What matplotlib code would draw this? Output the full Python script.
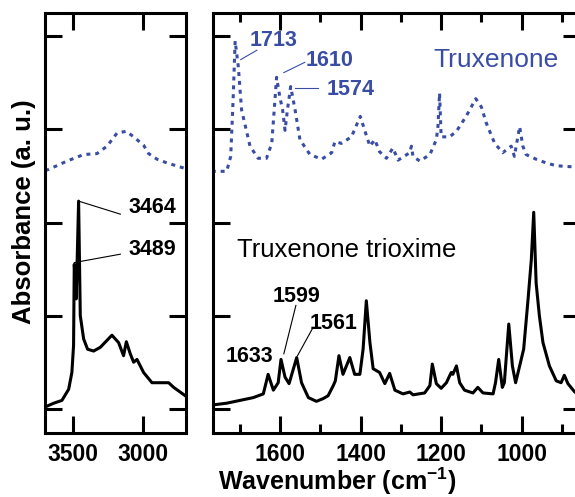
import numpy as np
import matplotlib
matplotlib.use("Agg")
import matplotlib.pyplot as plt
from matplotlib.ticker import FixedLocator

plt.rcParams['font.family'] = ['Liberation Sans', 'DejaVu Sans']
plt.rcParams['mathtext.fontset'] = 'custom'
plt.rcParams['mathtext.rm'] = 'Liberation Sans'
plt.rcParams['mathtext.bf'] = 'Liberation Sans:bold'

BLUE = '#3A4DA5'

# ---- O-H / N-H region (left panel) ----
oh_wn_trioxime = [3700, 3640, 3581, 3533, 3510, 3498, 3493, 3479, 3462, 3450, 3426, 3398,
                  3355, 3307, 3224, 3176, 3141, 3121, 3093, 3069, 3045, 2998, 2938, 2879,
                  2819, 2783, 2700]
oh_abs_trioxime = [0.02, 0.06, 0.09, 0.21, 0.39, 0.68, 1.55, 1.18, 2.23, 1.00, 0.75, 0.64,
                   0.62, 0.66, 0.79, 0.71, 0.57, 0.72, 0.59, 0.50, 0.53, 0.39, 0.28, 0.28,
                   0.28, 0.23, 0.14]

oh_wn_truxenone = [3700, 3676, 3545, 3426, 3331, 3259, 3188, 3121, 3069, 2998, 2962, 2902,
                   2831, 2700]
oh_abs_truxenone = [2.56, 2.57, 2.66, 2.73, 2.74, 2.82, 2.96, 2.98, 2.92, 2.83, 2.74, 2.68,
                    2.64, 2.58]

# ---- fingerprint region (right panel) ----
fp_wn_trioxime = [1770, 1733, 1700, 1667, 1642, 1630, 1617, 1605, 1598, 1588, 1578, 1559,
                  1547, 1530, 1510, 1493, 1481, 1468, 1463, 1454, 1444, 1427, 1415, 1402,
                  1394, 1386, 1377, 1369, 1353, 1340, 1328, 1315, 1295, 1278, 1270, 1241,
                  1228, 1222, 1212, 1200, 1187, 1175, 1171, 1162, 1154, 1142, 1121, 1109,
                  1096, 1071, 1065, 1057, 1048, 1043, 1032, 1023, 1015, 1005, 995, 984,
                  976, 970, 964, 956, 947, 931, 914, 902, 894, 885, 868, 855]
fp_abs_trioxime = [0.04, 0.06, 0.09, 0.12, 0.16, 0.37, 0.20, 0.28, 0.53, 0.34, 0.27, 0.55,
                   0.28, 0.12, 0.08, 0.11, 0.14, 0.25, 0.30, 0.57, 0.37, 0.55, 0.37, 0.37,
                   0.64, 1.16, 0.71, 0.43, 0.39, 0.27, 0.38, 0.20, 0.16, 0.18, 0.15, 0.17,
                   0.25, 0.48, 0.27, 0.22, 0.28, 0.39, 0.37, 0.46, 0.28, 0.20, 0.17, 0.23,
                   0.17, 0.16, 0.28, 0.53, 0.23, 0.28, 0.91, 0.46, 0.28, 0.46, 0.64, 1.18,
                   1.60, 2.11, 1.35, 1.00, 0.71, 0.46, 0.30, 0.28, 0.36, 0.27, 0.18, 0.15]

fp_wn_truxenone = [1770, 1733, 1723, 1717, 1712, 1704, 1696, 1675, 1655, 1634, 1621, 1613,
                   1609, 1601, 1594, 1588, 1582, 1574, 1563, 1551, 1526, 1497, 1472, 1464,
                   1448, 1423, 1401, 1390, 1377, 1365, 1353, 1336, 1320, 1307, 1278, 1274,
                   1270, 1253, 1228, 1212, 1208, 1204, 1200, 1179, 1162, 1138, 1114, 1100,
                   1088, 1067, 1047, 1026, 1018, 1005, 997, 989, 964, 939, 914, 881, 855]
fp_abs_truxenone = [2.55, 2.55, 2.71, 3.32, 3.95, 3.67, 3.21, 2.82, 2.69, 2.69, 2.85, 3.32,
                    3.56, 3.35, 3.21, 2.99, 3.21, 3.46, 3.21, 2.89, 2.73, 2.68, 2.75, 2.87,
                    2.85, 2.92, 3.14, 2.99, 2.82, 2.89, 2.76, 2.69, 2.80, 2.67, 2.75, 2.82,
                    2.71, 2.66, 2.73, 2.89, 3.03, 3.39, 2.92, 2.92, 2.98, 3.14, 3.33, 3.24,
                    3.07, 2.85, 2.75, 2.82, 2.71, 3.03, 2.82, 2.73, 2.68, 2.64, 2.61, 2.60, 2.60]

# peak labels: text, text position (wn, y), leader line (wn0, y0, wn1, y1) or None
left_labels = ['3464', '3489']
left_text_pos = [(3107, 2.16), (3107, 1.71)]
left_leaders = [(3462, 2.23, 3164, 2.09), (3493, 1.57, 3164, 1.66)]

blue_labels = ['1713', '1610', '1574']
blue_text_pos = [(1675, 3.96), (1536, 3.74), (1484, 3.43)]
blue_leaders = [(1698, 3.75, 1658, 3.85), (1591, 3.61, 1539, 3.72), (1564, 3.44, 1506, 3.44)]

black_labels = ['1633', '1599', '1561']
black_text_pos = [(1735, 0.56), (1618, 1.21), (1526, 0.92)]
black_leaders = [None, (1591, 0.59, 1561, 1.11), (1557, 0.57, 1520, 0.86)]

W, H = 575, 497
fig = plt.figure(figsize=(W / 100, H / 100), dpi=100)
ax1 = fig.add_axes([45 / W, 1 - 433 / H, 141 / W, 420 / H])
ax2 = fig.add_axes([213 / W, 1 - 433 / H, 367 / W, 420 / H])

for ax in (ax1, ax2):
    for s in ax.spines.values():
        s.set_linewidth(2.2)
    ax.set_ylim(-0.26, 4.25)
    ax.yaxis.set_major_locator(FixedLocator([0, 1, 2, 3, 4]))
    ax.tick_params(axis='both', which='major', direction='in', length=12, width=2.2,
                   top=True, right=True, labelsize=16.5, pad=7)
    ax.tick_params(axis='both', which='minor', direction='in', length=6.5, width=2.2,
                   top=True, right=True)
    ax.tick_params(axis='y', labelleft=False)

# left panel
ax1.plot(oh_wn_trioxime, oh_abs_trioxime, color='black', lw=2.2)
ax1.plot(oh_wn_truxenone, oh_abs_truxenone, color=BLUE, lw=2.2, linestyle=(0, (1.3, 1.6)))
ax1.set_xlim(3702, 2695)
ax1.xaxis.set_major_locator(FixedLocator([3500, 3000]))
ax1.set_xticklabels(['3500', '3000'], fontweight='bold')

# right panel
ax2.plot(fp_wn_trioxime, fp_abs_trioxime, color='black', lw=2.2)
ax2.plot(fp_wn_truxenone, fp_abs_truxenone, color=BLUE, lw=2.2, linestyle=(0, (1.3, 1.6)))
ax2.set_xlim(1767, 855)
ax2.xaxis.set_major_locator(FixedLocator([1600, 1400, 1200, 1000]))
ax2.xaxis.set_minor_locator(FixedLocator([1700, 1500, 1300, 1100, 900]))
ax2.set_xticklabels(['1600', '1400', '1200', '1000'], fontweight='bold')

for lab, pos, ld in zip(left_labels, left_text_pos, left_leaders):
    ax1.text(pos[0], pos[1], lab, fontsize=15.5, fontweight='bold', ha='left', va='center')
    ax1.plot([ld[0], ld[2]], [ld[1], ld[3]], color='black', lw=0.8)

for lab, pos, ld in zip(blue_labels, blue_text_pos, blue_leaders):
    ax2.text(pos[0], pos[1], lab, fontsize=15.5, fontweight='bold', color=BLUE,
             ha='left', va='center')
    ax2.plot([ld[0], ld[2]], [ld[1], ld[3]], color=BLUE, lw=0.8)

for lab, pos, ld in zip(black_labels, black_text_pos, black_leaders):
    ax2.text(pos[0], pos[1], lab, fontsize=15.5, fontweight='bold', ha='left', va='center')
    if ld is not None:
        ax2.plot([ld[0], ld[2]], [ld[1], ld[3]], color='black', lw=0.8)

ax2.text(1219, 3.74, 'Truxenone', fontsize=19, color=BLUE, ha='left', va='center')
ax2.text(1707, 1.71, 'Truxenone trioxime', fontsize=18.5, color='black', ha='left', va='center')

fig.text(24 / W, 1 - 212 / H, 'Absorbance (a. u.)', rotation=90, fontsize=18.5,
         fontweight='bold', ha='center', va='center')
fig.text(337 / W, 1 - 490 / H, r'Wavenumber (cm$^{\mathbf{-1}}$)', fontsize=18,
         fontweight='bold', ha='center', va='baseline')

fig.savefig('out.png', dpi=100)
